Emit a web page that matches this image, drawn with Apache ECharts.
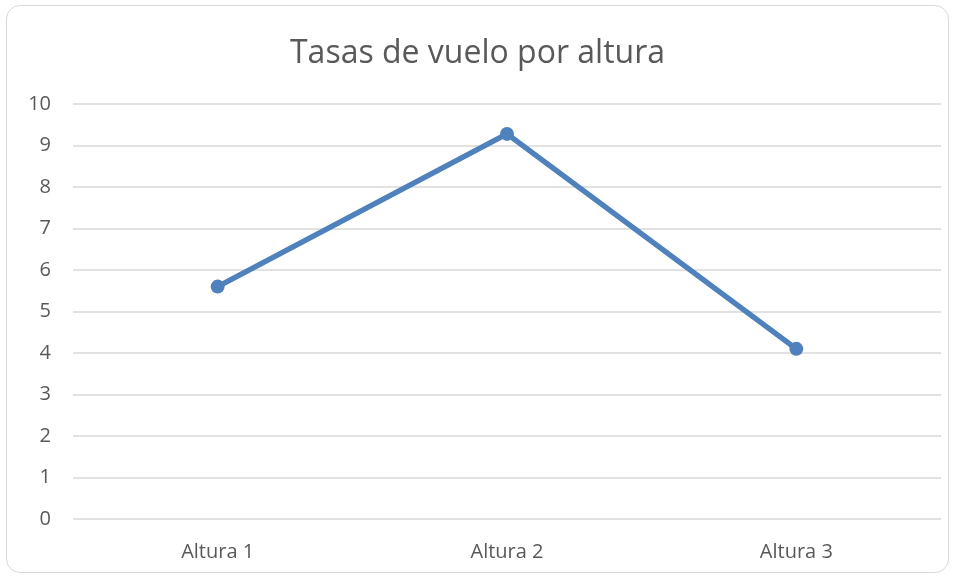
<!DOCTYPE html>
<html>
<head>
<meta charset="utf-8">
<script src="https://cdn.jsdelivr.net/npm/echarts@6/dist/echarts.min.js"></script>
<style>
  html, body { margin: 0; padding: 0; background: #ffffff; }
  #frame {
    position: absolute; left: 6px; top: 5px; width: 943px; height: 568px;
    border: 1px solid #d9d9d9; border-radius: 14px; box-sizing: border-box;
  }
  #chart { position: absolute; left: 0; top: 0; width: 955px; height: 576px; }
</style>
</head>
<body>
<div id="frame"></div>
<div id="chart"></div>
<script>
const categories = ["Altura 1", "Altura 2", "Altura 3"];
const tasas = [5.6, 9.28, 4.1];
const yTicks = { min: 0, max: 10, interval: 1 };

const myChart = echarts.init(document.getElementById("chart"));
const option = {
  animation: false,
  title: {
    text: "Tasas de vuelo por altura",
    left: "center",
    top: 33,
    textStyle: { fontFamily: "Open Sans", fontSize: 32, fontWeight: "normal", color: "#595959" },
  },
  grid: { left: 73, right: 14, top: 104, bottom: 57 },
  xAxis: {
    type: "category",
    data: categories,
    boundaryGap: true,
    axisLine: { show: false },
    axisTick: { show: false },
    axisLabel: { fontFamily: "Open Sans", fontSize: 20, color: "#595959", margin: 23 },
  },
  yAxis: {
    type: "value",
    min: yTicks.min,
    max: yTicks.max,
    interval: yTicks.interval,
    axisLine: { show: false },
    axisTick: { show: false },
    axisLabel: { fontFamily: "Open Sans", fontSize: 20, color: "#595959", margin: 22 },
    splitLine: { lineStyle: { color: "#d9d9d9", width: 1.5 } },
  },
  series: [
    {
      name: "Tasas",
      type: "line",
      data: tasas,
      symbol: "circle",
      symbolSize: 14,
      itemStyle: { color: "#4f81bd" },
      lineStyle: { color: "#4f81bd", width: 5.5 },
    },
  ],
};
myChart.setOption(option);
</script>
</body>
</html>
